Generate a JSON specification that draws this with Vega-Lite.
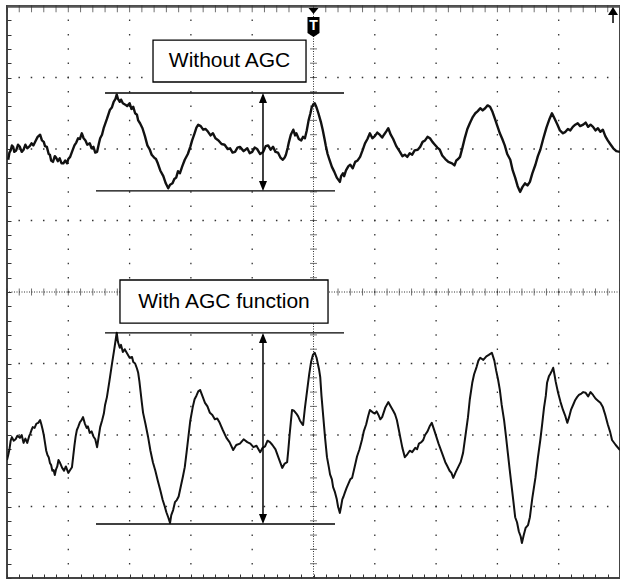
{
  "$schema": "https://vega.github.io/schema/vega-lite/v6.json",
  "width": 613,
  "height": 572,
  "autosize": {"type": "none"},
  "padding": {"left": 7, "top": 6, "right": 0, "bottom": 2},
  "background": "white",
  "config": {"view": {"stroke": "#444", "strokeWidth": 2}, "font": "Liberation Sans"},
  "datasets": {
    "one": [{"k": 1}],
    "gridx": [{"v": 1}, {"v": 2}, {"v": 3}, {"v": 4}, {"v": 6}, {"v": 7}, {"v": 8}, {"v": 9}],
    "gridy": [{"v": -3}, {"v": -2}, {"v": -1}, {"v": 1}, {"v": 2}, {"v": 3}],
    "tx": [{"v":0},{"v":0.2},{"v":0.4},{"v":0.6},{"v":0.8},{"v":1},{"v":1.2},{"v":1.4},{"v":1.6},{"v":1.8},{"v":2},{"v":2.2},{"v":2.4},{"v":2.6},{"v":2.8},{"v":3},{"v":3.2},{"v":3.4},{"v":3.6},{"v":3.8},{"v":4},{"v":4.2},{"v":4.4},{"v":4.6},{"v":4.8},{"v":5},{"v":5.2},{"v":5.4},{"v":5.6},{"v":5.8},{"v":6},{"v":6.2},{"v":6.4},{"v":6.6},{"v":6.8},{"v":7},{"v":7.2},{"v":7.4},{"v":7.6},{"v":7.8},{"v":8},{"v":8.2},{"v":8.4},{"v":8.6},{"v":8.8},{"v":9},{"v":9.2},{"v":9.4},{"v":9.6},{"v":9.8},{"v":10}],
    "ty": [{"v":-4},{"v":-3.8},{"v":-3.6},{"v":-3.4},{"v":-3.2},{"v":-3},{"v":-2.8},{"v":-2.6},{"v":-2.4},{"v":-2.2},{"v":-2},{"v":-1.8},{"v":-1.6},{"v":-1.4},{"v":-1.2},{"v":-1},{"v":-0.8},{"v":-0.6},{"v":-0.4},{"v":-0.2},{"v":0},{"v":0.2},{"v":0.4},{"v":0.6},{"v":0.8},{"v":1},{"v":1.2},{"v":1.4},{"v":1.6},{"v":1.8},{"v":2},{"v":2.2},{"v":2.4},{"v":2.6},{"v":2.8},{"v":3},{"v":3.2},{"v":3.4},{"v":3.6},{"v":3.8},{"v":4}],
    "traceA": [
      [0.02,1.85],[0.04,1.95],[0.06,1.98],[0.08,2.05],[0.10,2.03],[0.12,1.96],[0.15,1.98],[0.18,2.06],[0.21,2.03],[0.24,1.96],[0.27,1.99],[0.30,2.06],[0.33,2.01],[0.37,2.04],[0.40,2.08],[0.43,2.05],[0.47,2.12],[0.50,2.17],[0.54,2.20],[0.57,2.12],[0.60,2.10],[0.62,2.04],[0.65,2.03],[0.68,1.93],[0.70,1.92],[0.72,1.84],[0.75,1.82],[0.78,1.90],[0.80,1.88],[0.83,1.83],[0.86,1.87],[0.89,1.80],[0.92,1.80],[0.95,1.84],[0.98,1.80],[1.00,1.86],[1.03,1.89],[1.06,1.96],[1.10,2.05],[1.13,2.09],[1.16,2.15],[1.19,2.14],[1.22,2.22],[1.25,2.15],[1.28,2.12],[1.31,2.06],[1.35,2.08],[1.38,2.01],[1.41,2.03],[1.44,1.95],[1.47,1.96],[1.50,2.08],[1.52,2.15],[1.55,2.20],[1.58,2.30],[1.63,2.42],[1.68,2.55],[1.71,2.58],[1.74,2.66],[1.77,2.70],[1.79,2.76],[1.81,2.70],[1.84,2.66],[1.86,2.69],[1.89,2.64],[1.93,2.62],[1.96,2.60],[2.00,2.64],[2.03,2.56],[2.06,2.59],[2.09,2.50],[2.12,2.48],[2.14,2.40],[2.17,2.36],[2.21,2.29],[2.25,2.18],[2.29,2.05],[2.33,1.99],[2.36,1.92],[2.40,1.88],[2.43,1.86],[2.46,1.80],[2.50,1.70],[2.55,1.62],[2.59,1.52],[2.63,1.45],[2.66,1.50],[2.70,1.52],[2.73,1.58],[2.76,1.60],[2.79,1.69],[2.82,1.66],[2.86,1.76],[2.90,1.85],[2.95,1.93],[2.99,2.03],[3.02,2.12],[3.06,2.22],[3.09,2.30],[3.12,2.34],[3.16,2.32],[3.20,2.27],[3.24,2.28],[3.28,2.24],[3.32,2.19],[3.36,2.22],[3.40,2.15],[3.45,2.12],[3.50,2.07],[3.55,2.06],[3.60,2.00],[3.64,2.01],[3.68,1.95],[3.72,1.96],[3.76,2.02],[3.80,2.03],[3.86,1.97],[3.92,2.01],[3.96,1.94],[4.00,1.96],[4.04,2.02],[4.08,2.00],[4.13,1.93],[4.18,1.96],[4.22,2.04],[4.26,2.05],[4.30,1.99],[4.34,2.03],[4.38,1.96],[4.42,1.95],[4.46,1.88],[4.50,1.85],[4.53,1.88],[4.55,1.92],[4.58,2.02],[4.60,2.10],[4.63,2.20],[4.67,2.27],[4.70,2.19],[4.72,2.22],[4.76,2.14],[4.80,2.12],[4.83,2.17],[4.86,2.15],[4.89,2.26],[4.92,2.40],[4.95,2.50],[4.97,2.58],[5.00,2.63],[5.02,2.64],[5.05,2.58],[5.08,2.50],[5.12,2.38],[5.15,2.27],[5.18,2.14],[5.20,2.05],[5.23,1.93],[5.26,1.85],[5.30,1.75],[5.34,1.68],[5.38,1.60],[5.43,1.54],[5.45,1.62],[5.48,1.66],[5.50,1.62],[5.53,1.70],[5.57,1.76],[5.60,1.78],[5.64,1.73],[5.68,1.82],[5.72,1.84],[5.76,1.89],[5.80,1.98],[5.84,2.08],[5.88,2.14],[5.92,2.22],[5.96,2.15],[6.00,2.18],[6.04,2.23],[6.08,2.20],[6.12,2.16],[6.15,2.20],[6.19,2.25],[6.22,2.29],[6.26,2.20],[6.30,2.14],[6.35,2.04],[6.41,1.96],[6.45,1.90],[6.49,1.92],[6.53,1.89],[6.57,1.94],[6.61,1.92],[6.65,1.98],[6.70,1.99],[6.74,2.03],[6.78,2.10],[6.82,2.12],[6.86,2.17],[6.90,2.15],[6.94,2.10],[6.98,2.06],[7.02,2.02],[7.06,1.99],[7.10,1.91],[7.15,1.86],[7.20,1.82],[7.26,1.80],[7.30,1.77],[7.33,1.84],[7.36,1.86],[7.39,1.89],[7.43,2.02],[7.47,2.16],[7.51,2.28],[7.55,2.36],[7.60,2.45],[7.64,2.50],[7.68,2.53],[7.72,2.57],[7.76,2.54],[7.80,2.57],[7.84,2.61],[7.88,2.59],[7.92,2.52],[7.96,2.42],[8.00,2.32],[8.04,2.22],[8.08,2.14],[8.12,2.05],[8.16,1.93],[8.21,1.85],[8.25,1.70],[8.29,1.60],[8.33,1.48],[8.37,1.40],[8.41,1.47],[8.45,1.52],[8.49,1.49],[8.53,1.54],[8.57,1.66],[8.62,1.78],[8.66,1.90],[8.70,1.99],[8.75,2.15],[8.80,2.30],[8.85,2.42],[8.89,2.50],[8.93,2.43],[8.98,2.34],[9.02,2.26],[9.07,2.22],[9.11,2.24],[9.15,2.28],[9.19,2.26],[9.23,2.31],[9.27,2.34],[9.31,2.36],[9.35,2.32],[9.40,2.34],[9.44,2.37],[9.48,2.31],[9.52,2.34],[9.56,2.31],[9.60,2.26],[9.64,2.29],[9.68,2.24],[9.72,2.27],[9.76,2.18],[9.80,2.12],[9.84,2.07],[9.89,2.01],[9.94,1.97],[10.0,1.96]
    ],
    "traceB": [
      [0.00,-2.35],[0.02,-2.28],[0.04,-2.20],[0.06,-2.08],[0.08,-2.03],[0.11,-2.08],[0.14,-2.06],[0.17,-2.01],[0.21,-2.04],[0.24,-2.00],[0.27,-2.11],[0.30,-2.05],[0.33,-2.11],[0.36,-2.02],[0.38,-1.98],[0.40,-1.93],[0.42,-1.89],[0.45,-1.90],[0.48,-1.84],[0.51,-1.83],[0.54,-1.79],[0.56,-1.85],[0.58,-1.92],[0.60,-2.00],[0.62,-2.11],[0.64,-2.22],[0.66,-2.28],[0.68,-2.31],[0.70,-2.39],[0.72,-2.42],[0.74,-2.50],[0.76,-2.49],[0.78,-2.56],[0.80,-2.48],[0.82,-2.44],[0.84,-2.35],[0.86,-2.38],[0.90,-2.46],[0.93,-2.50],[0.96,-2.44],[1.00,-2.53],[1.03,-2.49],[1.06,-2.45],[1.08,-2.30],[1.10,-2.15],[1.12,-2.02],[1.14,-1.93],[1.16,-1.89],[1.19,-1.82],[1.21,-1.80],[1.24,-1.75],[1.27,-1.84],[1.30,-1.90],[1.32,-1.88],[1.35,-1.97],[1.38,-1.95],[1.41,-2.02],[1.44,-2.06],[1.47,-2.17],[1.50,-2.00],[1.52,-1.89],[1.55,-1.80],[1.58,-1.70],[1.60,-1.58],[1.63,-1.47],[1.67,-1.25],[1.71,-1.02],[1.75,-0.80],[1.79,-0.57],[1.81,-0.70],[1.84,-0.78],[1.86,-0.74],[1.89,-0.84],[1.92,-0.80],[1.96,-0.86],[2.00,-0.92],[2.04,-0.91],[2.06,-0.98],[2.09,-1.00],[2.12,-1.07],[2.14,-1.13],[2.16,-1.25],[2.18,-1.40],[2.20,-1.55],[2.22,-1.69],[2.26,-1.85],[2.30,-2.02],[2.34,-2.22],[2.38,-2.38],[2.42,-2.50],[2.46,-2.64],[2.50,-2.77],[2.54,-2.91],[2.57,-2.99],[2.60,-3.08],[2.63,-3.15],[2.66,-3.23],[2.68,-3.12],[2.71,-3.05],[2.74,-2.94],[2.77,-2.91],[2.80,-2.86],[2.84,-2.70],[2.87,-2.58],[2.90,-2.45],[2.93,-2.24],[2.96,-2.02],[2.99,-1.80],[3.03,-1.61],[3.06,-1.50],[3.09,-1.45],[3.12,-1.39],[3.15,-1.37],[3.19,-1.46],[3.23,-1.55],[3.27,-1.60],[3.31,-1.69],[3.35,-1.72],[3.39,-1.78],[3.43,-1.77],[3.47,-1.83],[3.52,-1.93],[3.58,-2.04],[3.63,-2.10],[3.69,-2.21],[3.74,-2.14],[3.80,-2.12],[3.86,-2.06],[3.92,-2.10],[3.97,-2.12],[4.02,-2.17],[4.07,-2.15],[4.13,-2.24],[4.17,-2.18],[4.21,-2.16],[4.25,-2.08],[4.29,-2.10],[4.33,-2.14],[4.38,-2.20],[4.43,-2.32],[4.49,-2.46],[4.53,-2.40],[4.57,-2.38],[4.59,-2.20],[4.61,-2.00],[4.63,-1.82],[4.65,-1.65],[4.68,-1.66],[4.72,-1.70],[4.75,-1.74],[4.78,-1.80],[4.81,-1.84],[4.83,-1.86],[4.86,-1.62],[4.90,-1.35],[4.93,-1.15],[4.96,-0.98],[4.99,-0.88],[5.02,-0.85],[5.05,-0.92],[5.07,-1.00],[5.09,-1.08],[5.11,-1.19],[5.13,-1.45],[5.16,-1.75],[5.19,-2.05],[5.22,-2.31],[5.25,-2.45],[5.27,-2.55],[5.30,-2.62],[5.32,-2.73],[5.35,-2.80],[5.38,-2.90],[5.40,-3.00],[5.43,-3.09],[5.45,-3.00],[5.47,-2.90],[5.49,-2.86],[5.51,-2.81],[5.54,-2.74],[5.57,-2.68],[5.60,-2.62],[5.63,-2.60],[5.67,-2.45],[5.71,-2.30],[5.75,-2.20],[5.79,-2.07],[5.82,-1.95],[5.86,-1.85],[5.89,-1.74],[5.92,-1.65],[5.96,-1.68],[6.00,-1.70],[6.03,-1.67],[6.06,-1.72],[6.09,-1.78],[6.12,-1.75],[6.17,-1.62],[6.22,-1.54],[6.26,-1.60],[6.30,-1.66],[6.33,-1.71],[6.36,-1.79],[6.39,-1.92],[6.42,-2.05],[6.45,-2.18],[6.49,-2.31],[6.53,-2.27],[6.57,-2.22],[6.61,-2.24],[6.66,-2.18],[6.69,-2.20],[6.72,-2.12],[6.76,-2.10],[6.79,-2.07],[6.82,-2.00],[6.86,-1.95],[6.90,-1.87],[6.93,-1.83],[6.98,-1.96],[7.04,-2.12],[7.10,-2.26],[7.15,-2.38],[7.18,-2.43],[7.22,-2.50],[7.25,-2.53],[7.28,-2.60],[7.32,-2.52],[7.36,-2.45],[7.40,-2.38],[7.44,-2.25],[7.48,-2.00],[7.52,-1.75],[7.55,-1.50],[7.59,-1.27],[7.62,-1.15],[7.66,-1.05],[7.69,-0.96],[7.72,-0.92],[7.77,-0.95],[7.82,-0.90],[7.86,-0.88],[7.91,-0.85],[7.95,-0.96],[7.98,-1.10],[8.01,-1.22],[8.04,-1.37],[8.07,-1.58],[8.11,-1.80],[8.14,-2.02],[8.17,-2.25],[8.20,-2.48],[8.23,-2.70],[8.26,-2.92],[8.29,-3.15],[8.32,-3.22],[8.35,-3.35],[8.38,-3.42],[8.40,-3.51],[8.43,-3.40],[8.46,-3.30],[8.50,-3.26],[8.53,-3.15],[8.57,-2.88],[8.62,-2.60],[8.66,-2.32],[8.70,-2.07],[8.73,-1.85],[8.76,-1.62],[8.79,-1.45],[8.81,-1.27],[8.84,-1.18],[8.86,-1.15],[8.89,-1.10],[8.91,-1.06],[8.93,-1.15],[8.95,-1.25],[8.97,-1.33],[8.99,-1.41],[9.03,-1.54],[9.07,-1.65],[9.11,-1.74],[9.14,-1.83],[9.17,-1.75],[9.20,-1.65],[9.24,-1.57],[9.27,-1.51],[9.30,-1.47],[9.33,-1.44],[9.37,-1.42],[9.40,-1.40],[9.44,-1.41],[9.48,-1.46],[9.52,-1.40],[9.56,-1.44],[9.60,-1.49],[9.64,-1.52],[9.68,-1.55],[9.72,-1.61],[9.76,-1.72],[9.80,-1.85],[9.84,-1.96],[9.87,-2.07],[9.93,-2.14],[10.0,-2.21]
    ],
    "hlines": [
      {"x1": 1.599, "x2": 5.498, "y": 2.783},
      {"x1": 1.452, "x2": 5.351, "y": 1.413},
      {"x1": 1.599, "x2": 5.498, "y": -0.573},
      {"x1": 1.452, "x2": 5.351, "y": -3.245}
    ],
    "stems": [
      {"x": 4.176, "y1": 2.75, "y2": 1.45},
      {"x": 4.176, "y1": -0.60, "y2": -3.21}
    ],
    "heads": [
      {"x": 4.176, "y": 2.713, "dir": "up"},
      {"x": 4.176, "y": 1.483, "dir": "down"},
      {"x": 4.176, "y": -0.643, "dir": "up"},
      {"x": 4.176, "y": -3.175, "dir": "down"}
    ],
    "boxes": [
      {"x1": 2.382, "x2": 4.878, "y1": 3.524, "y2": 2.937, "tx": 3.63, "ty": 3.231, "label": "Without AGC"},
      {"x1": 1.843, "x2": 5.237, "y1": 0.168, "y2": -0.434, "tx": 3.54, "ty": -0.133, "label": "With AGC function"}
    ]
  },
  "layer": [
    {
      "data": {"name": "gridx"},
      "mark": {"type": "rule", "color": "#333", "strokeWidth": 1.3, "strokeDash": [1.5, 12.8], "strokeDashOffset": 0.7},
      "encoding": {
        "x": {"field": "v", "type": "quantitative", "scale": {"domain": [0, 10], "nice": false, "zero": false},
              "axis": {"orient": "bottom", "values": [0,0.2,0.4,0.6,0.8,1,1.2,1.4,1.6,1.8,2,2.2,2.4,2.6,2.8,3,3.2,3.4,3.6,3.8,4,4.2,4.4,4.6,4.8,5,5.2,5.4,5.6,5.8,6,6.2,6.4,6.6,6.8,7,7.2,7.4,7.6,7.8,8,8.2,8.4,8.6,8.8,9,9.2,9.4,9.6,9.8,10],
                       "labels": false, "title": null, "grid": false, "domain": false, "ticks": true, "tickSize": -4, "tickColor": "#333", "tickWidth": 1}}
      }
    },
    {
      "data": {"name": "gridy"},
      "mark": {"type": "rule", "color": "#333", "strokeWidth": 1.3, "strokeDash": [1.5, 10.76], "strokeDashOffset": 0.7},
      "encoding": {
        "y": {"field": "v", "type": "quantitative", "scale": {"domain": [-4, 4], "nice": false, "zero": false},
              "axis": {"orient": "left", "values": [-4,-3.8,-3.6,-3.4,-3.2,-3,-2.8,-2.6,-2.4,-2.2,-2,-1.8,-1.6,-1.4,-1.2,-1,-0.8,-0.6,-0.4,-0.2,0,0.2,0.4,0.6,0.8,1,1.2,1.4,1.6,1.8,2,2.2,2.4,2.6,2.8,3,3.2,3.4,3.6,3.8,4],
                       "labels": false, "title": null, "grid": false, "domain": false, "ticks": true, "tickSize": -4, "tickColor": "#333", "tickWidth": 1}}
      }
    },
    {
      "data": {"name": "one"},
      "mark": {"type": "rule", "color": "#555", "strokeWidth": 2.2},
      "encoding": {"y": {"datum": 3.99, "type": "quantitative", "axis": null}}
    },
    {
      "data": {"name": "tx"},
      "mark": {"type": "tick", "orient": "vertical", "color": "#333", "size": 7, "thickness": 1},
      "encoding": {
        "x": {"field": "v", "type": "quantitative", "axis": null},
        "y": {"datum": 3.96, "type": "quantitative", "axis": null}
      }
    },
    {
      "data": {"name": "one"},
      "mark": {"type": "rule", "color": "#333", "strokeWidth": 1, "strokeDash": [1, 1.5]},
      "encoding": {"x": {"datum": 5, "type": "quantitative", "axis": null}}
    },
    {
      "data": {"name": "one"},
      "mark": {"type": "rule", "color": "#333", "strokeWidth": 1, "strokeDash": [1, 1.5]},
      "encoding": {"y": {"datum": 0, "type": "quantitative", "axis": null}}
    },
    {
      "data": {"name": "tx"},
      "mark": {"type": "tick", "orient": "vertical", "color": "#333", "size": 7, "thickness": 1},
      "encoding": {
        "x": {"field": "v", "type": "quantitative", "axis": null},
        "y": {"datum": 0, "type": "quantitative", "axis": null}
      }
    },
    {
      "data": {"name": "ty"},
      "mark": {"type": "tick", "orient": "horizontal", "color": "#333", "size": 7, "thickness": 1},
      "encoding": {
        "y": {"field": "v", "type": "quantitative", "axis": null},
        "x": {"datum": 5, "type": "quantitative", "axis": null}
      }
    },
    {
      "data": {"name": "traceA"},
      "mark": {"type": "line", "color": "#111", "strokeWidth": 2.4, "strokeJoin": "round", "clip": true},
      "encoding": {
        "x": {"field": "0", "type": "quantitative", "axis": null},
        "y": {"field": "1", "type": "quantitative", "axis": null},
        "order": {"field": "0", "type": "quantitative"}
      }
    },
    {
      "data": {"name": "traceB"},
      "mark": {"type": "line", "color": "#111", "strokeWidth": 2, "strokeJoin": "round", "clip": true},
      "encoding": {
        "x": {"field": "0", "type": "quantitative", "axis": null},
        "y": {"field": "1", "type": "quantitative", "axis": null},
        "order": {"field": "0", "type": "quantitative"}
      }
    },
    {
      "data": {"name": "hlines"},
      "mark": {"type": "rule", "color": "#000", "strokeWidth": 1.3},
      "encoding": {
        "x": {"field": "x1", "type": "quantitative", "axis": null},
        "x2": {"field": "x2"},
        "y": {"field": "y", "type": "quantitative", "axis": null}
      }
    },
    {
      "data": {"name": "stems"},
      "mark": {"type": "rule", "color": "#000", "strokeWidth": 1.5},
      "encoding": {
        "x": {"field": "x", "type": "quantitative", "axis": null},
        "y": {"field": "y1", "type": "quantitative", "axis": null},
        "y2": {"field": "y2"}
      }
    },
    {
      "data": {"name": "heads"},
      "mark": {"type": "point", "filled": true, "color": "#000", "size": 100, "opacity": 1},
      "encoding": {
        "x": {"field": "x", "type": "quantitative", "axis": null},
        "y": {"field": "y", "type": "quantitative", "axis": null},
        "shape": {"field": "dir", "type": "nominal", "legend": null,
                  "scale": {"domain": ["up", "down"], "range": ["M0,-1L-0.8,1L0.8,1Z", "M0,1L-0.8,-1L0.8,-1Z"]}}
      }
    },
    {
      "data": {"name": "boxes"},
      "mark": {"type": "rect", "fill": "white", "stroke": "#000", "strokeWidth": 1.3},
      "encoding": {
        "x": {"field": "x1", "type": "quantitative", "axis": null},
        "x2": {"field": "x2"},
        "y": {"field": "y1", "type": "quantitative", "axis": null},
        "y2": {"field": "y2"}
      }
    },
    {
      "data": {"name": "boxes"},
      "mark": {"type": "text", "font": "Liberation Sans", "fontSize": 21, "color": "#000", "align": "center", "baseline": "middle"},
      "encoding": {
        "x": {"field": "tx", "type": "quantitative", "axis": null},
        "y": {"field": "ty", "type": "quantitative", "axis": null},
        "text": {"field": "label"}
      }
    },
    {
      "data": {"name": "one"},
      "mark": {"type": "point", "filled": true, "color": "#000", "size": 100, "opacity": 1, "shape": "M-1,-0.6L1,-0.6L0,0.6Z"},
      "encoding": {
        "x": {"datum": 5, "type": "quantitative", "axis": null},
        "y": {"datum": 3.93, "type": "quantitative", "axis": null}
      }
    },
    {
      "data": {"name": "one"},
      "mark": {"type": "point", "filled": true, "color": "#000", "size": 400, "opacity": 1, "shape": "M-0.6,-1L0.6,-1L0.6,0.6L0,1L-0.6,0.6Z"},
      "encoding": {
        "x": {"datum": 5, "type": "quantitative", "axis": null},
        "y": {"datum": 3.706, "type": "quantitative", "axis": null}
      }
    },
    {
      "data": {"name": "one"},
      "mark": {"type": "text", "text": "T", "font": "Liberation Sans", "fontWeight": "bold", "fontSize": 14, "color": "white", "align": "center", "baseline": "middle"},
      "encoding": {
        "x": {"datum": 5, "type": "quantitative", "axis": null},
        "y": {"datum": 3.725, "type": "quantitative", "axis": null}
      }
    },
    {
      "data": {"name": "one"},
      "mark": {"type": "point", "filled": true, "color": "#000", "size": 100, "opacity": 1, "shape": "M0,-0.8L-1,0.8L1,0.8Z"},
      "encoding": {
        "x": {"datum": 9.886, "type": "quantitative", "axis": null},
        "y": {"datum": 3.93, "type": "quantitative", "axis": null}
      }
    },
    {
      "data": {"name": "one"},
      "mark": {"type": "rule", "color": "#000", "strokeWidth": 1.5},
      "encoding": {
        "x": {"datum": 9.886, "type": "quantitative", "axis": null},
        "y": {"datum": 3.874, "type": "quantitative", "axis": null},
        "y2": {"datum": 3.762}
      }
    }
  ],
  "resolve": {"axis": {"x": "independent", "y": "independent"}}
}
